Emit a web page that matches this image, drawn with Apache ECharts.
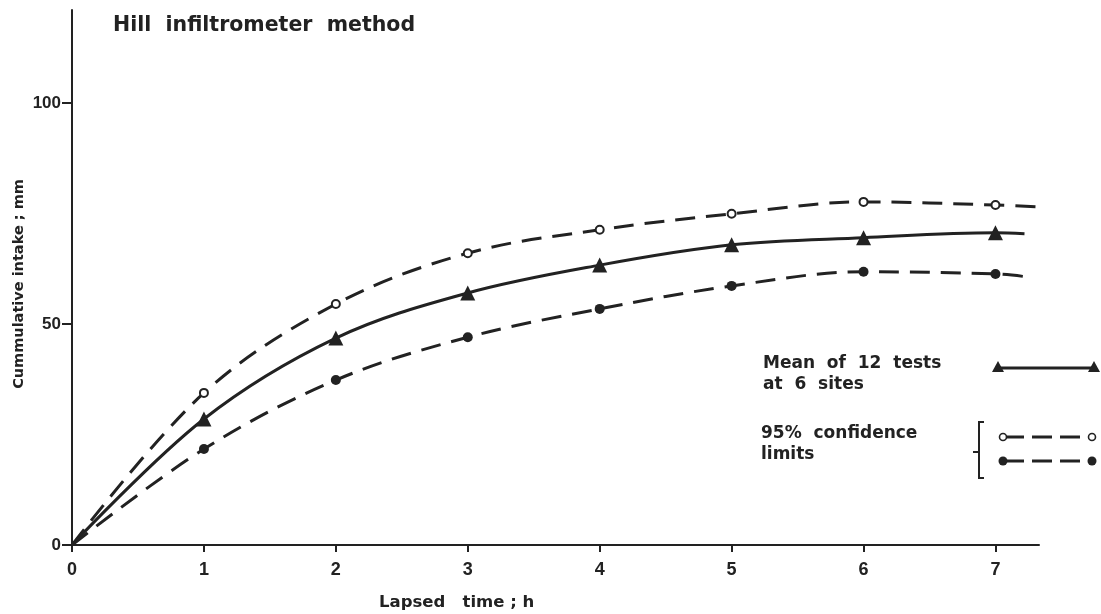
<!DOCTYPE html>
<html><head><meta charset="utf-8">
<script src="https://cdn.jsdelivr.net/npm/echarts@6/dist/echarts.min.js"></script>
<style>html,body{margin:0;padding:0;background:#fff}#c{width:1101px;height:614px}</style>
</head><body><div id="c"></div>
<script>
// Lapsed time (h) for each curve (last entry = where the drawn curve stops)
const timesUpper = [0, 1, 2, 3, 4, 5, 6, 7, 7.32];
const timesMean  = [0, 1, 2, 3, 4, 5, 6, 7, 7.22];
const timesLower = [0, 1, 2, 3, 4, 5, 6, 7, 7.25];
// Cumulative intake (mm)
const upperLimit = [0, 34.4, 54.5, 66.0, 71.3, 74.9, 77.6, 76.9, 76.5];
const meanIntake = [0, 28.5, 46.8, 57.0, 63.3, 67.9, 69.5, 70.6, 70.4];
const lowerLimit = [0, 21.7, 37.3, 47.0, 53.4, 58.6, 61.8, 61.3, 60.6];
const xTicks = [0, 1, 2, 3, 4, 5, 6, 7];
const yTicks = [0, 50, 100];

const ink = '#222';
const font = '"DejaVu Sans", "Liberation Sans", sans-serif';
const numFont = '"Liberation Sans", Arial, sans-serif';

function pts(times, vals) {
  return times.map((t, i) => {
    const p = { value: [t, vals[i]] };
    if (t === 0 || t !== Math.round(t)) p.symbol = 'none';
    return p;
  });
}

const chart = echarts.init(document.getElementById('c'));
chart.setOption({
  animation: false,
  backgroundColor: '#fff',
  grid: { left: 72, right: 62, top: 10, bottom: 69, containLabel: false, outerBoundsMode: 'none' },
  xAxis: {
    type: 'value', min: 0, max: 7.33,
    axisLine: { show: true, lineStyle: { color: ink, width: 2 } },
    axisTick: { show: true, length: 7, customValues: xTicks, lineStyle: { color: ink, width: 2 } },
    axisLabel: { customValues: xTicks, margin: 16, color: ink, fontFamily: numFont, fontWeight: 'bold', fontSize: 18 },
    splitLine: { show: false }
  },
  yAxis: {
    type: 'value', min: 0, max: 121,
    axisLine: { show: true, lineStyle: { color: ink, width: 2 } },
    axisTick: { show: true, length: 10, customValues: yTicks, lineStyle: { color: ink, width: 2 } },
    axisLabel: { customValues: yTicks, margin: 11, color: ink, fontFamily: numFont, fontWeight: 'bold', fontSize: 17 },
    splitLine: { show: false }
  },
  series: [
    {
      name: 'upper', type: 'line', smooth: 0.35, data: pts(timesUpper, upperLimit),
      symbol: 'circle', symbolSize: 8,
      itemStyle: { color: '#fff', borderColor: ink, borderWidth: 2 },
      lineStyle: { color: ink, width: 3, type: [20, 11] }, z: 3
    },
    {
      name: 'mean', type: 'line', smooth: 0.35, data: pts(timesMean, meanIntake),
      symbol: 'triangle', symbolSize: 15,
      itemStyle: { color: ink, borderWidth: 0 },
      lineStyle: { color: ink, width: 3 }, z: 3
    },
    {
      name: 'lower', type: 'line', smooth: 0.35, data: pts(timesLower, lowerLimit),
      symbol: 'circle', symbolSize: 10,
      itemStyle: { color: ink, borderWidth: 0 },
      lineStyle: { color: ink, width: 3, type: [20, 11] }, z: 3
    }
  ],
  graphic: [
    { type: 'text', left: 113, top: 15, style: { text: 'Hill  infiltrometer  method', fill: ink, font: 'bold 20.5px ' + font } },
    { type: 'text', x: 19, y: 284, rotation: Math.PI / 2,
      style: { text: 'Cummulative intake ; mm', fill: ink, font: 'bold 14.5px ' + font, align: 'center', verticalAlign: 'middle' } },
    { type: 'text', left: 379, top: 594, style: { text: 'Lapsed   time ; h', fill: ink, font: 'bold 16.5px ' + font } },
    { type: 'text', left: 763, top: 353, style: { text: 'Mean  of  12  tests\nat  6  sites', fill: ink, font: 'bold 17px ' + font, lineHeight: 21 } },
    { type: 'text', left: 761, top: 423, style: { text: '95%  confidence\nlimits', fill: ink, font: 'bold 17px ' + font, lineHeight: 21 } },
    // legend: mean
    { type: 'line', shape: { x1: 998, y1: 368, x2: 1094, y2: 368 }, style: { stroke: ink, lineWidth: 3 } },
    { type: 'polygon', shape: { points: [[992, 372], [1004, 372], [998, 361]] }, style: { fill: ink } },
    { type: 'polygon', shape: { points: [[1088, 372], [1100, 372], [1094, 361]] }, style: { fill: ink } },
    // bracket
    { type: 'polyline', shape: { points: [[984, 422], [979, 422], [979, 478], [984, 478]] }, style: { stroke: ink, lineWidth: 2, fill: null } },
    { type: 'line', shape: { x1: 973, y1: 452, x2: 979, y2: 452 }, style: { stroke: ink, lineWidth: 2 } },
    // legend: upper
    { type: 'line', shape: { x1: 1004, y1: 437, x2: 1092, y2: 437 }, style: { stroke: ink, lineWidth: 3, lineDash: [20, 8] } },
    { type: 'circle', shape: { cx: 1003, cy: 437, r: 3.5 }, style: { fill: '#fff', stroke: ink, lineWidth: 1.6 } },
    { type: 'circle', shape: { cx: 1092, cy: 437, r: 3.5 }, style: { fill: '#fff', stroke: ink, lineWidth: 1.6 } },
    // legend: lower
    { type: 'line', shape: { x1: 1004, y1: 461, x2: 1092, y2: 461 }, style: { stroke: ink, lineWidth: 3, lineDash: [20, 8] } },
    { type: 'circle', shape: { cx: 1003, cy: 461, r: 4.5 }, style: { fill: ink } },
    { type: 'circle', shape: { cx: 1092, cy: 461, r: 4.5 }, style: { fill: ink } }
  ]
});
</script>
</body></html>
